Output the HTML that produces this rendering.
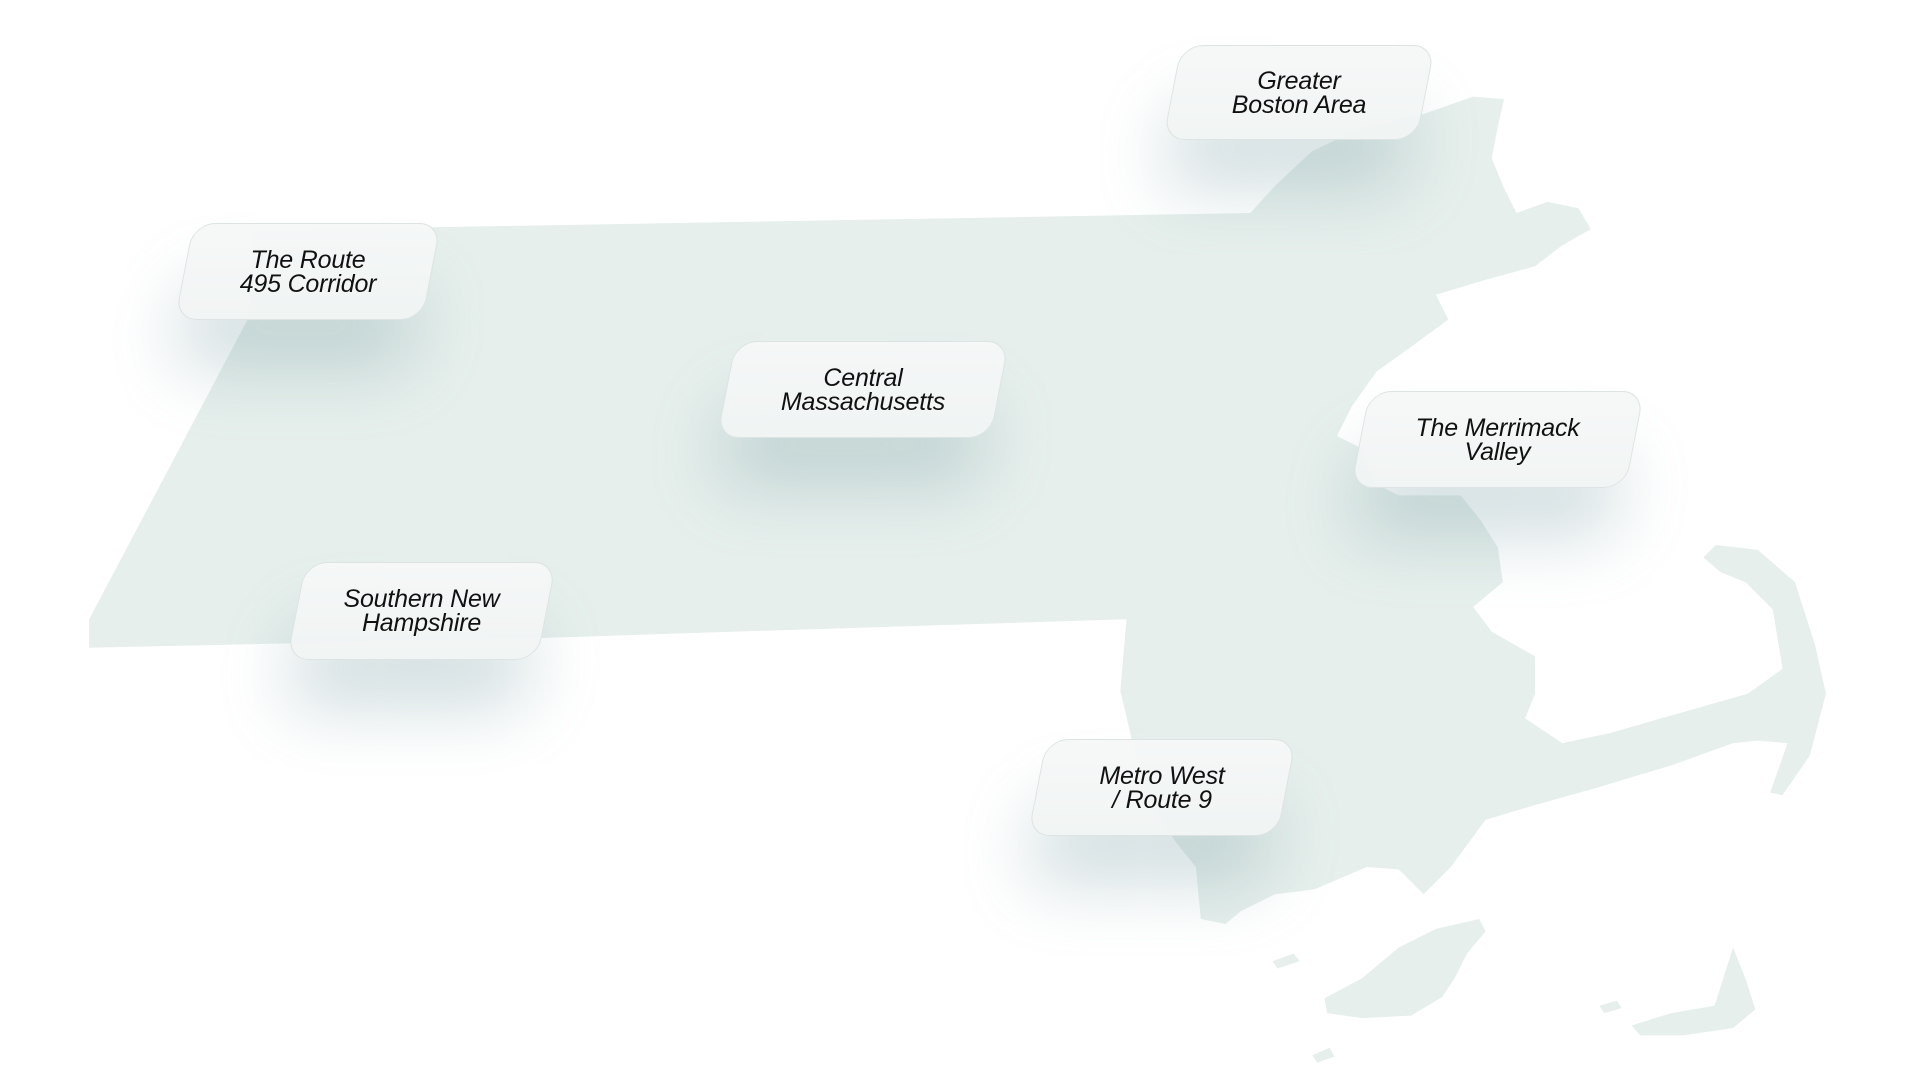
<!DOCTYPE html>
<html><head><meta charset="utf-8"><style>
html,body{margin:0;padding:0;background:#fff;width:1920px;height:1080px;overflow:hidden;position:relative;font-family:"Liberation Sans",sans-serif}
svg.map{position:absolute;left:0;top:0}
.lbl{position:absolute;height:97px;display:flex;align-items:center;justify-content:center;text-align:center}
.lbl::before{content:"";position:absolute;inset:0;transform:skewX(-11deg);border-radius:22px;background:linear-gradient(180deg,rgba(246,248,248,.95),rgba(240,244,243,.95));border:1.5px solid #dde3e2;box-shadow:0 55px 70px -8px rgba(110,150,155,.32)}
.lbl span{position:relative;font-style:italic;font-size:25px;line-height:24px;color:#111;letter-spacing:-.2px}
</style></head><body>
<svg class="map" width="1920" height="1080" viewBox="0 0 1551 872" preserveAspectRatio="none">
<g fill="#e6efec">
<path d="M72,500 L200,258 L205,186 L1010,172 L1030,150 L1060,122 L1100,103 L1150,92 L1190,78 L1215,80 L1210,102 L1205,128 L1215,152 L1225,172 L1250,163 L1275,168 L1285,185 L1262,198 L1240,215 L1200,226 L1160,238 L1170,258 L1140,280 L1112,300 L1092,328 L1080,352 L1100,362 L1110,390 L1130,400 L1180,400 L1196,420 L1210,442 L1214,470 L1190,490 L1205,510 L1240,530 L1240,560 L1232,580 L1262,600 L1300,592 L1370,572 L1412,560 L1440,540 L1432,492 L1410,470 L1390,462 L1376,450 L1386,440 L1420,444 L1450,470 L1466,520 L1475,560 L1462,610 L1440,642 L1430,640 L1444,600 L1420,598 L1400,600 L1350,618 L1290,636 L1240,650 L1200,662 L1172,700 L1150,722 L1130,702 L1104,700 L1062,718 L1030,722 L1002,736 L990,746 L970,742 L966,700 L950,680 L930,650 L915,600 L905,558 L910,500 L750,505 L440,515 L72,523 Z"/>
<path d="M1070,806 L1100,790 L1130,765 L1160,750 L1195,742 L1200,752 L1185,770 L1175,790 L1165,805 L1140,820 L1100,822 L1072,818 Z"/>
<path d="M1318,828 L1350,818 L1385,812 L1392,790 L1400,765 L1410,790 L1418,815 L1400,830 L1360,836 L1325,836 Z"/>
<path d="M1028,776 L1045,770 L1050,776 L1032,782 Z"/>
<path d="M1060,852 L1074,846 L1078,853 L1064,858 Z"/>
<path d="M1292,812 L1306,808 L1310,814 L1296,818 Z"/>
</g>
</svg>
<div class="lbl" style="left:1172px;top:45px;width:254px;height:95px"><span>Greater<br>Boston Area</span></div>
<div class="lbl" style="left:184px;top:223px;width:248px"><span>The Route<br>495 Corridor</span></div>
<div class="lbl" style="left:726px;top:341px;width:274px"><span>Central<br>Massachusetts</span></div>
<div class="lbl" style="left:1360px;top:391px;width:275px"><span>The Merrimack<br>Valley</span></div>
<div class="lbl" style="left:296px;top:562px;width:251px;height:98px"><span>Southern New<br>Hampshire</span></div>
<div class="lbl" style="left:1037px;top:739px;width:250px"><span>Metro West<br>/ Route 9</span></div>
</body></html>
